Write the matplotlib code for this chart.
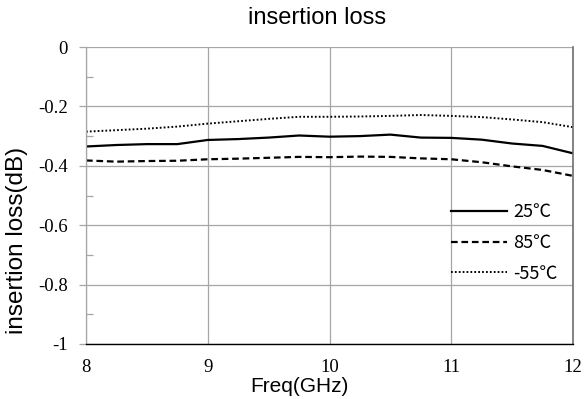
import matplotlib
matplotlib.use("Agg")
import matplotlib.pyplot as plt
from matplotlib.ticker import MultipleLocator, FixedLocator

# Frequency sweep (GHz) and measured insertion loss (dB) at three temperatures
freq = [8.00, 8.25, 8.50, 8.75, 9.00, 9.25, 9.50, 9.75, 10.00,
        10.25, 10.50, 10.75, 11.00, 11.25, 11.50, 11.75, 12.00]
loss_25 = [-0.335, -0.330, -0.327, -0.327, -0.313, -0.310, -0.305, -0.298, -0.302,
           -0.300, -0.295, -0.305, -0.306, -0.312, -0.325, -0.333, -0.358]
loss_85 = [-0.382, -0.386, -0.384, -0.383, -0.378, -0.376, -0.373, -0.370, -0.371,
           -0.369, -0.370, -0.375, -0.378, -0.388, -0.402, -0.414, -0.434]
loss_m55 = [-0.285, -0.280, -0.275, -0.268, -0.258, -0.250, -0.242, -0.235, -0.235,
            -0.234, -0.232, -0.229, -0.232, -0.236, -0.244, -0.253, -0.270]

series_labels = ["25\u2103", "85\u2103", "-55\u2103"]
x_ticks = [8, 9, 10, 11, 12]
x_tick_labels = ["8", "9", "10", "11", "12"]
y_ticks = [-1.0, -0.8, -0.6, -0.4, -0.2, 0.0]
y_tick_labels = ["-1", "-0.8", "-0.6", "-0.4", "-0.2", "0"]

W, H = 584, 399
fig = plt.figure(figsize=(W / 100, H / 100), dpi=100)
ax = fig.add_axes([86 / W, (H - 344) / H, 487 / W, 297 / H])

grid_c = "#a6a6a6"

ax.plot(freq, loss_25, color="black", lw=1.6, ls="-", label=series_labels[0])
ax.plot(freq, loss_85, color="black", lw=1.6, ls=(0, (3.0, 1.7)), label=series_labels[1])
ax.plot(freq, loss_m55, color="black", lw=1.4, ls=(0, (0.9, 1.1)), label=series_labels[2])

ax.set_xlim(8, 12)
ax.set_ylim(-1, 0)

ax.xaxis.set_major_locator(FixedLocator(x_ticks))
ax.set_xticklabels(x_tick_labels)
ax.yaxis.set_major_locator(FixedLocator(y_ticks))
ax.set_yticklabels(y_tick_labels)
ax.yaxis.set_minor_locator(MultipleLocator(0.1))

serif = ["Liberation Serif", "DejaVu Serif"]
for lbl in ax.get_xticklabels() + ax.get_yticklabels():
    lbl.set_fontfamily(serif)
    lbl.set_fontsize(13.5)

ax.tick_params(axis="x", which="both", length=0, pad=11)
ax.tick_params(axis="y", which="major", length=5, width=0.9, color=grid_c,
               direction="out", pad=8)
ax.tick_params(axis="y", which="minor", length=5, width=0.9, color=grid_c,
               direction="in")

ax.grid(True, which="major", color=grid_c, lw=0.9)
ax.set_axisbelow(True)

ax.spines["top"].set_visible(False)
ax.spines["left"].set_color(grid_c)
ax.spines["left"].set_linewidth(0.9)
ax.spines["bottom"].set_color("black")
ax.spines["bottom"].set_linewidth(1.0)
ax.spines["right"].set_color("#6e6e6e")
ax.spines["right"].set_linewidth(1.2)

sans = ["Liberation Sans", "DejaVu Sans"]
fig.text(317 / W, 1 - 18 / H, "insertion loss", ha="center", va="center",
         fontsize=17, family=sans)
fig.text(299 / W, 1 - 386 / H, "Freq(GHz)", ha="center", va="center",
         fontsize=15, family=sans)
fig.text(17 / W, 1 - 240 / H, "insertion loss(dB)", ha="center", va="center",
         rotation=90, fontsize=17.5, family=sans)

leg = ax.legend(loc="center left", bbox_to_anchor=((451 - 86) / 487, (344 - 243) / 297),
                frameon=False, borderpad=0, borderaxespad=0,
                handlelength=3.1, handletextpad=0.35, labelspacing=0.7,
                prop={"family": ["Noto Sans CJK SC", "DejaVu Sans"], "size": 13})

fig.savefig("out.png", dpi=100, facecolor="white")
